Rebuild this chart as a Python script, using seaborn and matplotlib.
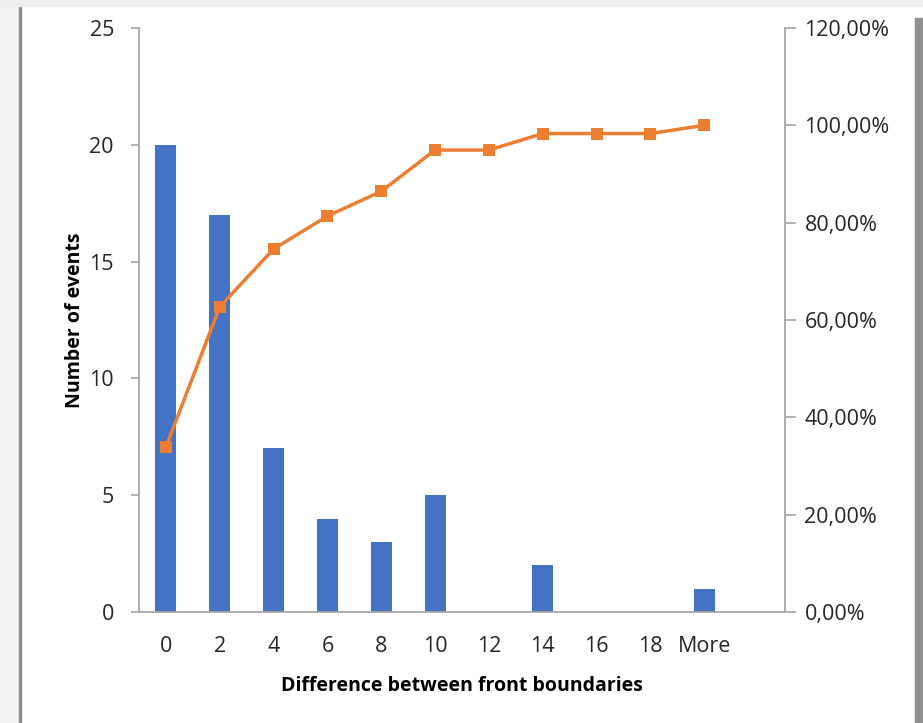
import numpy as np
import pandas as pd
import matplotlib
matplotlib.use('Agg')
import matplotlib.pyplot as plt
import matplotlib.patches as mpatches
from matplotlib.ticker import FuncFormatter, FixedLocator
import seaborn as sns

bins = ['0', '2', '4', '6', '8', '10', '12', '14', '16', '18', 'More']
counts = [20, 17, 7, 4, 3, 5, 0, 2, 0, 0, 1]
cum_pct = [33.90, 62.71, 74.58, 81.36, 86.44, 94.92, 94.92, 98.31, 98.31, 98.31, 100.00]

bar_color = '#4472C4'
line_color = '#ED7D31'
axis_color = '#A6A6A6'

sns.set_theme(style='white')
plt.rcParams['font.family'] = ['Open Sans', 'DejaVu Sans']

fig = plt.figure(figsize=(9.23, 7.23), dpi=100)
W, H = 923, 723

# window frame / shadow around the chart
fig.patches.append(mpatches.Rectangle((0, 0), 19 / W, 1, transform=fig.transFigure,
                                      color='#f3f3f3', zorder=0))
fig.patches.append(mpatches.Rectangle((19 / W, 0), 2 / W, 1, transform=fig.transFigure,
                                      color='#8a8a8a', zorder=0))
fig.patches.append(mpatches.Rectangle((0, 1 - 6 / H), 1, 6 / H, transform=fig.transFigure,
                                      color='#eeeeee', zorder=0))
fig.patches.append(mpatches.Rectangle((915 / W, 0), 8 / W, 1 - 18 / H, transform=fig.transFigure,
                                      color='#909090', zorder=0))

ax = fig.add_axes([139 / W, 1 - 612 / H, (785 - 139) / W, (612 - 28) / H])
df = pd.DataFrame({'bin': bins, 'count': counts, 'cum': cum_pct})

sns.barplot(data=df, x='bin', y='count', color=bar_color, width=0.39,
            saturation=1, linewidth=0, ax=ax, zorder=2)
ax.set_xlim(-0.5, 11.5)
ax.set_ylim(0, 25)
ax.set_yticks([0, 5, 10, 15, 20, 25])

ax2 = ax.twinx()
sns.lineplot(x=np.arange(len(bins)), y=df['cum'], color=line_color, linewidth=2.5,
             marker='s', markersize=9, markeredgewidth=0, ax=ax2, zorder=3)
ax2.set_ylim(0, 120)
ax2.set_yticks(range(0, 121, 20))
ax2.yaxis.set_major_formatter(FuncFormatter(lambda v, p: f'{v:.2f}'.replace('.', ',') + '%'))
ax2.set_ylabel('')

# category ticks between bins, labels centred
ax.xaxis.set_major_locator(FixedLocator(np.arange(-0.5, 12, 1)))
ax.xaxis.set_minor_locator(FixedLocator(np.arange(len(bins))))
ax.set_xticklabels([''] * 13)
ax.set_xticklabels(bins, minor=True)
ax.tick_params(axis='x', which='major', length=7, color=axis_color, width=1.2, direction='out')
ax.tick_params(axis='x', which='minor', length=0, labelsize=15.5, pad=17, labelcolor='#262626')
ax.tick_params(axis='y', length=6, color=axis_color, width=1.2, labelsize=15.5,
               labelcolor='#262626', pad=12)
ax2.tick_params(axis='y', length=8, color=axis_color, width=1.2, labelsize=15.5,
                labelcolor='#262626', pad=6)

for a in (ax, ax2):
    a.spines['top'].set_visible(False)
    for s in ('left', 'right', 'bottom'):
        a.spines[s].set_color(axis_color)
        a.spines[s].set_linewidth(1.3)
ax.spines['right'].set_visible(False)
ax2.spines['left'].set_visible(False)
ax2.spines['bottom'].set_visible(False)

ax.set_xlabel('Difference between front boundaries', fontsize=14, fontweight='bold',
              color='black', labelpad=14)
ax.set_ylabel('Number of events', fontsize=14, fontweight='bold', color='black', labelpad=3)

fig.savefig('out.png', dpi=100, facecolor='white')
